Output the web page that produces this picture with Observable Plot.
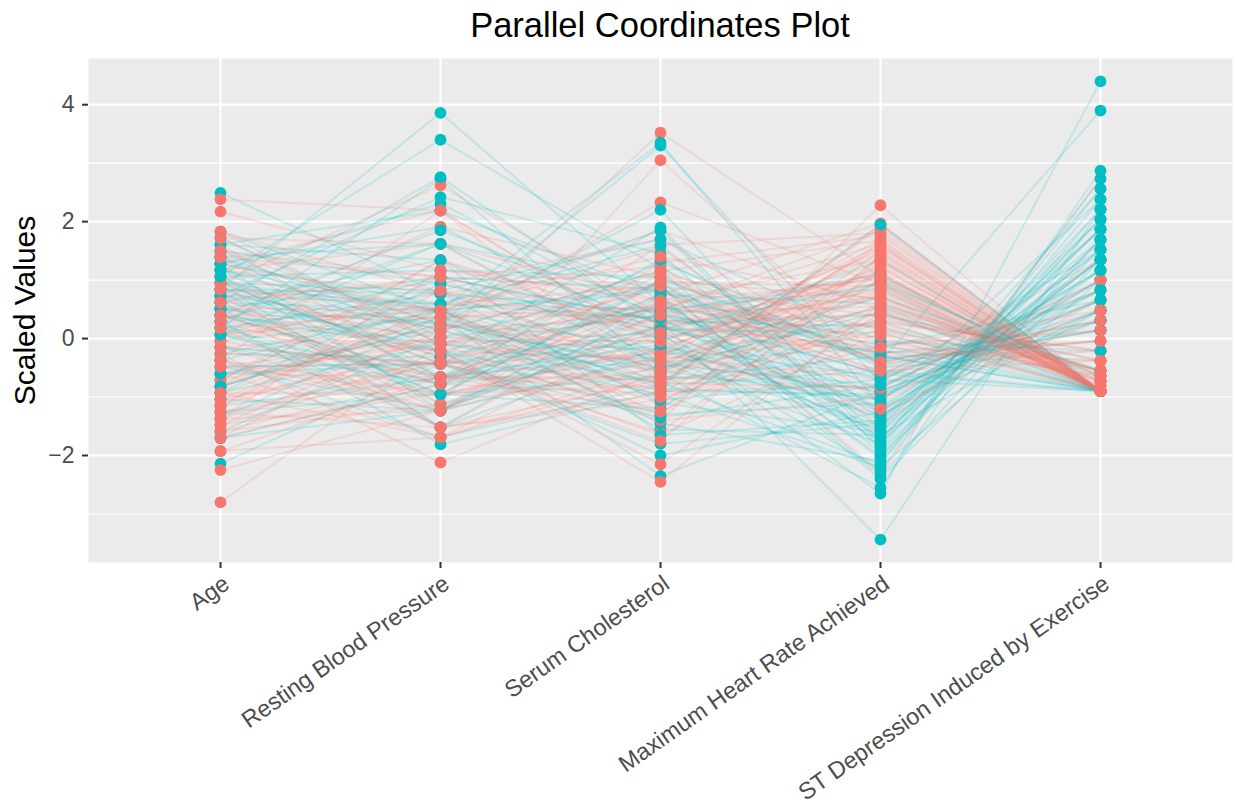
<!DOCTYPE html>
<html><head><meta charset="utf-8">
<script src="https://cdn.jsdelivr.net/npm/d3@7"></script>
<script src="https://cdn.jsdelivr.net/npm/@observablehq/plot@0.6"></script>
<style>
body{margin:0;background:#fff;font-family:"Liberation Sans",Arial,Helvetica,sans-serif;}
#title{position:absolute;left:88px;width:1144px;top:8px;text-align:center;font-size:34.5px;line-height:34.5px;color:#000;white-space:nowrap;}
#chart{position:absolute;left:0;top:58px;}
</style></head><body>
<div id="title">Parallel Coordinates Plot</div>
<div id="chart"></div>
<script>
const dimensions = ["Age","Resting Blood Pressure","Serum Cholesterol","Maximum Heart Rate Achieved","ST Depression Induced by Exercise"];
const yMajor = [-2,0,2,4];
const yMinor = [-3,-1,1,3];
const groupColors = ["#F8766D","#00BFC4"];

// scaled values per row: [age, resting bp, cholesterol, max heart rate, st depression]
const noDisease = [
[-1.26,-0.66,0.35,1.10,-0.90],[-0.82,0.48,-0.52,0.98,-0.90],[0.29,-0.09,1.12,0.15,-0.55],[1.72,1.62,0.65,-0.40,0.31],
[-1.48,-0.38,-0.75,1.64,-0.90],[-0.37,-1.23,0.22,0.72,-0.90],[2.38,2.19,-0.15,-1.30,0.66],[-2.80,-0.09,-1.42,2.28,-0.90],
[0.51,0.48,1.85,0.50,-0.72],[-0.60,-0.66,-0.30,1.45,-0.90],[1.17,0.77,0.10,-0.22,-0.38],[-1.04,-0.21,0.48,1.85,-0.90],
[0.84,-1.52,-1.05,0.28,-0.21],[-0.15,0.14,2.33,0.93,-0.90],[-1.92,-1.69,-0.62,1.58,-0.90],[1.50,1.05,0.82,-0.65,1.35],
[-0.48,-0.43,-1.60,1.20,-0.81],[0.07,0.37,0.55,0.02,-0.90],[-1.37,-1.23,1.30,1.76,-0.90],[1.83,-0.09,-0.40,-0.90,0.48],
[-0.71,1.34,0.00,0.84,-0.90],[0.40,-0.78,-0.95,0.35,-0.55],[-1.15,0.02,3.52,1.05,-0.90],[0.95,2.62,0.40,-0.10,0.14],
[-0.93,-0.95,-0.20,1.33,-0.90],[0.18,-0.21,-2.45,0.60,-0.64],[-1.59,-0.66,0.75,1.97,-0.90],[1.28,0.48,1.55,-1.10,1.00],
[-0.26,-2.12,-0.55,0.79,-0.90],[0.62,0.19,0.30,0.41,-0.38],[-1.26,-0.43,-1.20,1.50,-0.90],[2.17,1.17,0.90,-2.30,2.73],
[-0.82,0.25,-0.05,1.15,-0.90],[0.73,-1.12,3.05,-0.35,-0.04],[-1.48,-0.95,-0.80,1.90,-0.90],[-0.04,0.82,0.15,0.25,-0.72],
[1.06,-0.32,-1.65,0.10,-0.90],[-2.25,-1.23,-0.35,1.70,-0.90],[0.29,1.91,1.05,-0.60,0.31],[-0.60,-0.09,0.60,1.02,-0.90],
[1.61,-0.66,-0.70,-0.50,-0.21],[-1.04,0.48,-1.30,1.38,-0.90],[0.51,-1.52,0.45,0.55,-0.55],[-0.37,2.19,-0.10,0.70,-0.64],
[-1.70,-0.78,1.60,1.80,-0.90],[0.95,0.14,-0.90,-0.80,0.66],[-0.15,-0.43,0.95,0.90,-0.90],[1.39,1.05,0.20,-0.15,-0.38],
[-0.93,-1.69,-0.45,1.25,-0.90],[0.07,-0.21,-2.15,0.45,-0.81],[-1.15,0.59,0.50,1.62,-0.90],[1.83,0.77,1.25,-1.50,1.35],
[-0.48,-0.95,-0.15,0.88,-0.90],[0.40,0.37,-0.60,0.30,-0.21],[-1.37,-0.32,0.05,1.48,-0.90],[0.62,-1.23,0.70,-0.05,-0.64],
[-0.71,0.02,-1.10,1.12,-0.90],[1.17,1.62,-0.30,-0.70,0.83],[-1.93,-0.66,-0.85,1.95,-0.90],[0.18,0.48,1.40,0.65,-0.90],
[-0.26,-0.43,-0.25,0.52,-0.55],[0.84,-0.09,0.85,-0.25,-0.04],[-1.59,-1.12,-0.50,1.55,-0.90],[1.50,0.25,-1.40,-1.00,0.48],
[-0.82,1.34,0.25,0.95,-0.90],[0.29,-0.78,0.60,0.20,-0.72],[-1.26,-1.52,-0.95,1.30,-0.90],[0.73,0.94,1.70,-0.45,0.14],
[-0.04,-0.66,-0.65,0.75,-0.90],[1.06,0.48,0.35,-0.30,-0.21],[-1.48,0.14,1.15,1.68,-0.90],[0.51,-0.21,-0.35,0.05,-0.64],
[-0.60,-1.69,0.15,1.08,-0.90],[1.28,2.19,-0.75,-0.85,1.00],[-1.04,-0.38,-1.75,1.42,-0.90],[0.07,0.59,0.90,0.38,-0.55],
[-0.37,-0.95,-0.40,0.82,-0.90],[0.95,-0.43,0.55,-0.55,-0.38],[-1.70,0.25,-0.25,1.60,-0.90],[0.62,1.05,-0.80,0.15,-0.90],
[-0.15,-1.23,1.00,0.68,-0.81],[1.72,-0.09,0.10,-1.20,0.31],[-1.15,0.82,-0.55,1.22,-0.90],[0.40,-0.66,-1.25,0.48,-0.90],
[-0.93,0.37,0.40,1.05,-0.64],[1.39,-0.78,1.10,-0.40,-0.04],[-0.48,0.02,-0.05,0.92,-0.90],[0.18,-1.52,-0.70,0.58,-0.72],
[-1.37,1.17,0.65,1.35,-0.90],[0.84,0.48,-1.00,-0.15,0.48]
];
const disease = [
[0.62,0.48,0.85,-1.20,1.35],[1.17,-0.66,0.20,-0.95,0.66],[0.29,1.62,-0.40,-1.80,1.87],[2.49,0.77,0.45,-0.60,0.83],
[-0.15,-0.43,1.30,-0.20,-0.90],[0.84,3.86,0.60,-1.50,2.04],[0.40,-0.21,-0.95,-2.20,1.00],[1.39,0.25,3.30,-0.75,1.52],
[-0.48,-1.23,-0.30,0.30,-0.90],[0.95,0.48,-1.55,-1.65,0.48],[0.07,1.05,0.30,-3.44,2.21],[-1.70,-0.78,0.75,0.60,-0.55],
[0.51,0.02,-0.20,-1.05,1.17],[1.06,3.40,1.20,-0.40,3.90],[-0.37,-1.69,-0.80,-0.55,-0.90],[0.73,0.59,1.85,-1.90,1.69],
[-2.14,-0.43,-0.05,1.35,-0.90],[0.18,2.73,-0.60,-2.55,2.87],[1.50,-0.09,0.40,-0.25,0.14],[-0.82,0.37,-2.35,-0.90,0.66],
[0.62,-0.95,0.95,-1.35,1.35],[1.28,1.91,0.10,-2.65,4.40],[-0.26,-0.32,0.55,-0.10,-0.90],[0.84,0.77,-1.10,-1.60,1.87],
[-1.04,-1.23,0.25,0.40,-0.38],[0.29,0.48,3.35,-1.15,1.00],[1.61,1.34,-0.45,-0.80,0.31],[0.40,-0.66,0.70,-2.05,2.38],
[-0.60,0.14,-0.70,-0.30,-0.90],[1.17,2.31,0.35,-1.40,1.52],[-1.26,-0.95,-1.20,1.00,-0.72],[0.51,0.25,2.20,-1.75,2.56],
[0.95,-1.52,-0.15,-0.65,0.48],[0.07,1.62,0.90,-2.35,1.69],[1.83,0.48,-0.85,-1.00,0.83],[-0.48,-0.43,0.15,0.10,-0.90],
[0.73,2.42,1.45,-1.85,2.04],[1.39,-0.21,-2.00,-1.25,1.17],[-1.59,0.02,0.50,0.85,-0.90],[0.18,-0.78,-0.35,-1.55,1.35],
[1.06,1.17,1.05,-0.45,0.14],[-0.04,0.37,-1.45,-2.10,2.21],[0.62,2.76,0.20,-0.70,0.66],[1.28,-1.23,0.65,-1.70,1.87],
[-0.93,-0.09,-0.55,0.55,-0.90],[0.84,0.59,1.60,-1.30,0.48],[0.29,-1.81,-0.90,-0.95,0.31],[1.50,0.94,0.00,-2.25,2.73],
[-0.26,0.48,0.80,-0.35,-0.04],[0.95,-0.43,-1.80,-1.45,1.52],[0.40,1.85,0.40,-0.60,-0.90],[-1.15,-0.66,-0.25,0.70,-0.55],
[1.17,0.14,1.15,-1.95,1.69],[0.51,-0.95,-0.65,-0.85,1.00],[-0.71,1.05,0.30,0.20,-0.90],[0.73,-0.21,-1.30,-1.10,2.38],
[1.61,2.19,0.75,-2.40,1.35],[0.07,-0.66,1.35,-0.50,0.14],[-1.37,0.37,-0.80,1.95,-0.90],[1.06,-1.12,0.05,-1.60,1.17],
[0.18,0.77,-0.40,-0.15,0.66],[0.84,-0.32,1.90,-1.80,2.04],[-0.37,0.48,-1.05,-0.70,-0.90],[1.39,1.62,0.25,-1.20,0.83],
[0.29,-1.52,0.60,-2.00,1.52],[-0.82,0.25,-0.50,0.45,-0.90],[0.62,1.34,-1.65,-1.40,1.87],[1.72,0.02,0.95,-0.90,0.48],
[-0.15,-0.78,0.10,-1.25,1.00],[0.95,0.82,1.70,-0.05,-0.21],[0.40,-0.09,-0.75,-2.15,2.56],[-1.70,-1.23,0.45,1.10,-0.90],
[1.17,0.48,-0.20,-1.50,1.35],[0.51,1.05,0.85,-0.40,0.31],[-0.60,-0.43,-1.35,-0.80,0.83],[1.28,0.59,0.35,-1.75,2.21],
[0.07,-0.95,1.00,-0.30,-0.90],[0.73,0.25,-0.55,-1.05,1.17],[-0.93,0.94,0.15,0.95,-0.64],[1.06,-0.66,-0.10,-1.35,1.69]
];

// long format, rows interleaved between groups
const long = [];
let id = 0;
const n = Math.max(noDisease.length, disease.length);
for (let i = 0; i < n; i++) {
  for (const [g, rows] of [["No", noDisease], ["Yes", disease]]) {
    const r = rows[i];
    if (!r) continue;
    r.forEach((v, j) => long.push({id, g, dim: j + 1, value: v}));
    id++;
  }
}
const dimIdx = dimensions.map((d, i) => i + 1);
const fmt = d => d < 0 ? "\u2212" + (-d) : String(d);

const chart = Plot.plot({
  width: 1235, height: 749,
  marginLeft: 88, marginRight: 3, marginTop: 0, marginBottom: 245,
  style: {fontFamily: '"Liberation Sans", Arial, Helvetica, sans-serif', background: "white"},
  x: {domain: [0.4, 5.6], axis: null},
  y: {domain: [-3.83, 4.79], axis: null},
  color: {domain: ["No", "Yes"], range: groupColors},
  marks: [
    Plot.frame({fill: "#EBEBEB", stroke: null}),
    Plot.ruleY(yMinor, {stroke: "white", strokeWidth: 1.1}),
    Plot.ruleY(yMajor, {stroke: "white", strokeWidth: 2.2}),
    Plot.ruleX(dimIdx, {stroke: "white", strokeWidth: 2.2}),
    Plot.line(long, {x: "dim", y: "value", z: "id", stroke: "g", strokeOpacity: 0.17, strokeWidth: 2, curve: "linear"}),
    Plot.dot(long, {x: "dim", y: "value", fill: "g", r: 5.9, stroke: null}),
    Plot.axisY({ticks: yMajor, tickSize: 6, tickPadding: 8, tickFormat: fmt, fontSize: 23, stroke: "#333333", fill: "#4D4D4D", strokeWidth: 2, label: null}),
    Plot.axisX({ticks: dimIdx, tickSize: 6, tickFormat: () => "", stroke: "#333333", strokeWidth: 2, label: null}),
    Plot.text(dimIdx, {x: d => d, text: d => dimensions[d - 1], frameAnchor: "bottom", dy: 11, dx: 1, rotate: -35, textAnchor: "end", lineAnchor: "top", fontSize: 23.5, fill: "#4D4D4D"}),
    Plot.text(["Scaled Values"], {frameAnchor: "left", dx: -63, rotate: -90, fontSize: 30, fill: "#000", textAnchor: "middle", lineAnchor: "middle"})
  ]
});
document.getElementById("chart").appendChild(chart);
</script>
</body></html>
